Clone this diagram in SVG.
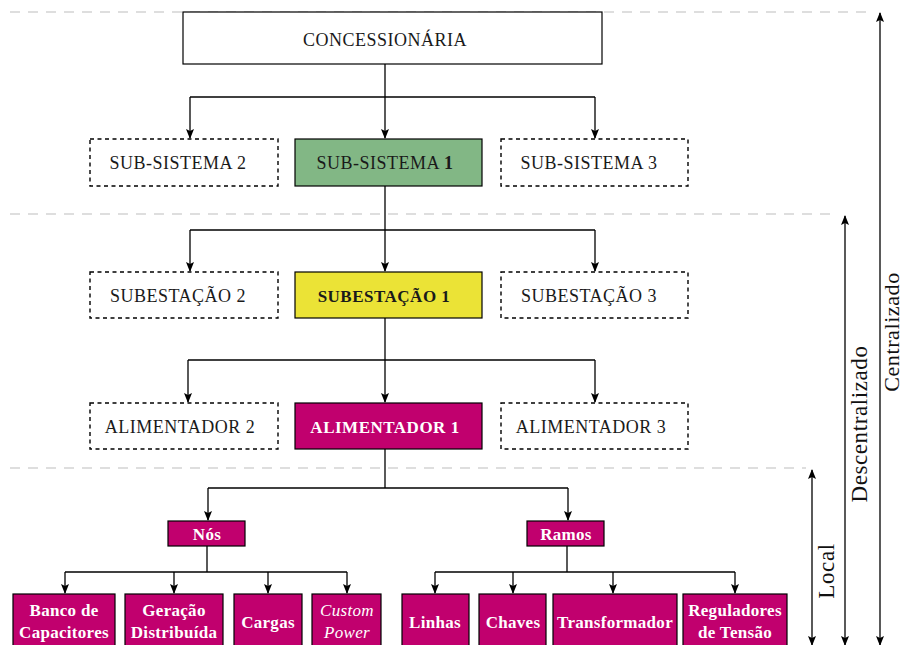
<svg xmlns="http://www.w3.org/2000/svg" width="904" height="645" viewBox="0 0 904 645">
  <defs>
    <marker id="arr" viewBox="0 0 10 10" refX="9" refY="5" markerWidth="10" markerHeight="10" markerUnits="userSpaceOnUse" orient="auto-start-reverse">
      <path d="M0,1 L10,5 L0,9 L2,5 Z" fill="#000"/>
    </marker>
    <style>
      .sep { stroke: #d4d4d4; stroke-width: 1.3; stroke-dasharray: 10 8; fill: none; }
      .box { stroke: #000; stroke-width: 1.2; }
      .plain { fill: #fff; }
      .dash { fill: #fff; stroke-width: 1.4; stroke-dasharray: 4 3.5; }
      .green { fill: #82b785; }
      .yellow { fill: #ebe336; }
      .mag { fill: #c1006e; }
      .t { font-size: 18px; letter-spacing: 0.5px; fill: #1a1a1a; text-anchor: middle; dominant-baseline: central; }
      .tb { font-weight: bold; font-size: 17px; }
      .w { fill: #fff; font-weight: bold; font-size: 17px; letter-spacing: 0.3px; }
      .it { font-style: italic; font-weight: normal; }
      .side { font-size: 23px; letter-spacing: 0.6px; fill: #111; text-anchor: middle; dominant-baseline: central; }
      .c { stroke: #000; stroke-width: 1.3; fill: none; }
      .ca { stroke: #000; stroke-width: 1.3; fill: none; marker-end: url(#arr); }
      .cd { stroke: #000; stroke-width: 1.3; fill: none; marker-start: url(#arr); marker-end: url(#arr); }
    </style>
  </defs>
  <rect x="0" y="0" width="904" height="645" fill="#fff"/>

  <!-- level separators -->
  <g id="separators">
    <line class="sep" x1="10" y1="12" x2="870" y2="12"/>
    <line class="sep" x1="10" y1="214" x2="838" y2="214"/>
    <line class="sep" x1="10" y1="468" x2="806" y2="468"/>
  </g>

  <!-- connectors -->
  <g id="connectors">
    <polyline class="c" points="385,64 385,97"/>
    <polyline class="c" points="190,97 595,97"/>
    <line class="ca" x1="190" y1="97" x2="190" y2="138"/>
    <line class="ca" x1="385" y1="97" x2="385" y2="138"/>
    <line class="ca" x1="595" y1="97" x2="595" y2="138"/>

    <polyline class="c" points="385,186 385,230"/>
    <polyline class="c" points="190,230 595,230"/>
    <line class="ca" x1="190" y1="230" x2="190" y2="271"/>
    <line class="ca" x1="385" y1="230" x2="385" y2="271"/>
    <line class="ca" x1="595" y1="230" x2="595" y2="271"/>

    <polyline class="c" points="385,318 385,360"/>
    <polyline class="c" points="188,360 595,360"/>
    <line class="ca" x1="188" y1="360" x2="188" y2="402"/>
    <line class="ca" x1="385" y1="360" x2="385" y2="402"/>
    <line class="ca" x1="595" y1="360" x2="595" y2="402"/>

    <polyline class="c" points="385,449 385,488"/>
    <polyline class="c" points="208,488 568,488"/>
    <line class="ca" x1="208" y1="488" x2="208" y2="520"/>
    <line class="ca" x1="568" y1="488" x2="568" y2="520"/>

    <polyline class="c" points="207,546 207,572"/>
    <polyline class="c" points="65,572 347,572"/>
    <line class="ca" x1="65" y1="572" x2="65" y2="593"/>
    <line class="ca" x1="174" y1="572" x2="174" y2="593"/>
    <line class="ca" x1="268" y1="572" x2="268" y2="593"/>
    <line class="ca" x1="347" y1="572" x2="347" y2="593"/>

    <polyline class="c" points="567,546 567,572"/>
    <polyline class="c" points="435,572 735,572"/>
    <line class="ca" x1="435" y1="572" x2="435" y2="593"/>
    <line class="ca" x1="513" y1="572" x2="513" y2="593"/>
    <line class="ca" x1="613" y1="572" x2="613" y2="593"/>
    <line class="ca" x1="735" y1="572" x2="735" y2="593"/>

    <!-- scope arrows -->
    <line class="cd" x1="812" y1="470" x2="812" y2="645"/>
    <line class="cd" x1="845" y1="216" x2="845" y2="645"/>
    <line class="cd" x1="880" y1="13" x2="880" y2="645"/>
  </g>

  <g font-family="Liberation Serif, DejaVu Serif, serif">
    <!-- top level -->
    <g id="concessionaria">
      <rect class="box plain" x="183" y="12" width="419" height="52"/>
      <text class="t" x="385" y="40">CONCESSIONÁRIA</text>
    </g>

    <!-- sub-systems -->
    <g id="subsistema2">
      <rect class="box dash" x="90" y="139" width="188" height="47"/>
      <text class="t" x="178" y="163">SUB-SISTEMA 2</text>
    </g>
    <g id="subsistema1">
      <rect class="box green" x="295" y="139" width="187" height="47"/>
      <text class="t" x="385" y="163">SUB-SISTEMA <tspan font-weight="bold">1</tspan></text>
    </g>
    <g id="subsistema3">
      <rect class="box dash" x="501" y="139" width="187" height="47"/>
      <text class="t" x="589" y="163">SUB-SISTEMA 3</text>
    </g>

    <!-- substations -->
    <g id="subestacao2">
      <rect class="box dash" x="90" y="272" width="188" height="46"/>
      <text class="t" x="178" y="296">SUBESTAÇÃO 2</text>
    </g>
    <g id="subestacao1">
      <rect class="box yellow" x="295" y="272" width="187" height="46"/>
      <text class="t tb" x="384" y="296">SUBESTAÇÃO 1</text>
    </g>
    <g id="subestacao3">
      <rect class="box dash" x="501" y="272" width="187" height="46"/>
      <text class="t" x="589" y="296">SUBESTAÇÃO 3</text>
    </g>

    <!-- feeders -->
    <g id="alimentador2">
      <rect class="box dash" x="90" y="403" width="188" height="46"/>
      <text class="t" x="180" y="427">ALIMENTADOR 2</text>
    </g>
    <g id="alimentador1">
      <rect class="box mag" x="295" y="403" width="187" height="46"/>
      <text class="t w" x="385" y="427" style="letter-spacing:0.5px">ALIMENTADOR 1</text>
    </g>
    <g id="alimentador3">
      <rect class="box dash" x="501" y="403" width="187" height="46"/>
      <text class="t" x="591" y="427">ALIMENTADOR 3</text>
    </g>

    <!-- local level -->
    <g id="nos">
      <rect class="box mag" x="168" y="521" width="77" height="25"/>
      <text class="t w" x="207" y="534">Nós</text>
    </g>
    <g id="ramos">
      <rect class="box mag" x="527" y="521" width="77" height="25"/>
      <text class="t w" x="566" y="534">Ramos</text>
    </g>

    <g id="banco">
      <rect class="box mag" x="13" y="594" width="102" height="56"/>
      <text class="t w" x="64" y="610">Banco de</text>
      <text class="t w" x="64" y="632">Capacitores</text>
    </g>
    <g id="geracao">
      <rect class="box mag" x="125" y="594" width="98" height="56"/>
      <text class="t w" x="174" y="610">Geração</text>
      <text class="t w" x="174" y="632">Distribuída</text>
    </g>
    <g id="cargas">
      <rect class="box mag" x="234" y="594" width="68" height="56"/>
      <text class="t w" x="268" y="622">Cargas</text>
    </g>
    <g id="custompower">
      <rect class="box mag" x="312" y="594" width="69" height="56"/>
      <text class="t w it" x="347" y="610">Custom</text>
      <text class="t w it" x="347" y="632">Power</text>
    </g>

    <g id="linhas">
      <rect class="box mag" x="402" y="594" width="67" height="56"/>
      <text class="t w" x="435" y="622">Linhas</text>
    </g>
    <g id="chaves">
      <rect class="box mag" x="479" y="594" width="67" height="56"/>
      <text class="t w" x="513" y="622">Chaves</text>
    </g>
    <g id="transformador">
      <rect class="box mag" x="553" y="594" width="124" height="56"/>
      <text class="t w" x="615" y="622">Transformador</text>
    </g>
    <g id="reguladores">
      <rect class="box mag" x="683" y="594" width="104" height="56"/>
      <text class="t w" x="735" y="610">Reguladores</text>
      <text class="t w" x="735" y="632">de Tensão</text>
    </g>

    <!-- scope labels -->
    <g id="labels">
      <text class="side" transform="translate(826,571) rotate(-90)">Local</text>
      <text class="side" transform="translate(859,424) rotate(-90)">Descentralizado</text>
      <text class="side" transform="translate(891,332) rotate(-90)" style="font-size:22px">Centralizado</text>
    </g>
  </g>
</svg>
